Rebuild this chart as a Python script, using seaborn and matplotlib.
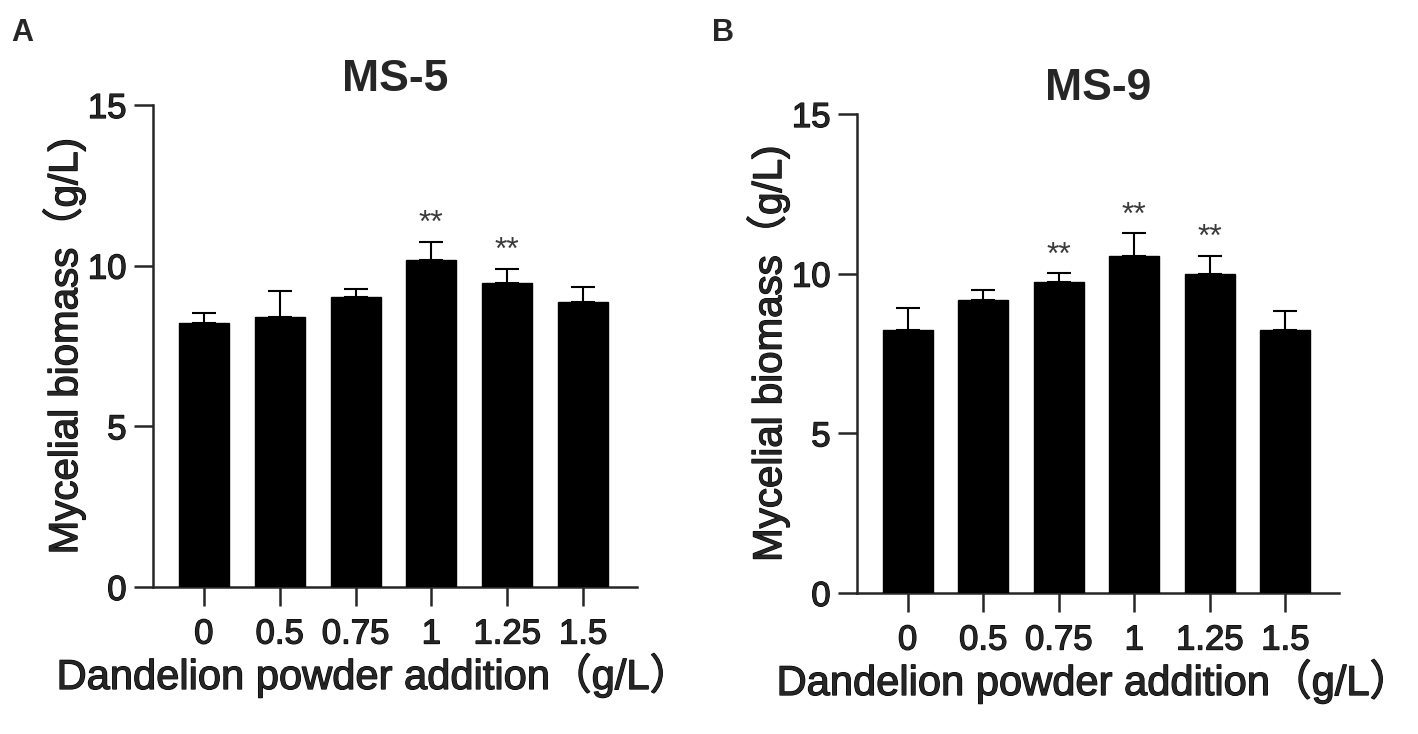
import pandas as pd
import seaborn as sns
import matplotlib.pyplot as plt
import matplotlib.patheffects as pe
import numpy as np

# Data
doses = ["0", "0.5", "0.75", "1", "1.25", "1.5"]
ms5_mean = [8.20, 8.40, 9.03, 10.16, 9.47, 8.88]
ms5_sd = [0.32, 0.81, 0.25, 0.58, 0.44, 0.45]
ms5_sig = ["", "", "", "**", "**", ""]
ms9_mean = [8.25, 9.17, 9.73, 10.54, 9.98, 8.25]
ms9_sd = [0.68, 0.31, 0.28, 0.72, 0.58, 0.58]
ms9_sig = ["", "", "**", "**", "**", ""]

sns.set_style("ticks")
plt.rcParams['font.family'] = ['Liberation Sans', 'Noto Sans CJK SC', 'DejaVu Sans']

# slightly heavier text, like the original export
thick = [pe.withStroke(linewidth=0.9, foreground="black")]

fig = plt.figure(figsize=(14.18, 7.34), dpi=100)
ax1 = fig.add_axes([0.1079, 0.2003, 0.3413, 0.6567])
ax2 = fig.add_axes([0.6044, 0.1921, 0.3399, 0.6526])

panels = [(ax1, "MS-5", ms5_mean, ms5_sd, ms5_sig, 0.455),
          (ax2, "MS-9", ms9_mean, ms9_sd, ms9_sig, 0.49)]

for ax, title, mean, sd, sig, xlab_pos in panels:
    df = pd.DataFrame({"dose": doses, "biomass": mean})
    sns.barplot(data=df, x="dose", y="biomass", color="black", width=0.66,
                edgecolor="black", errorbar=None, ax=ax, zorder=3, saturation=1)
    x = np.arange(len(doses))
    ax.errorbar(x, mean, yerr=[np.zeros(len(sd)), sd], fmt="none",
                ecolor="black", elinewidth=1.5, capsize=8.5, capthick=1.5, zorder=2)
    for xi, m, s, lab in zip(x, mean, sd, sig):
        if lab:
            ax.text(xi, m + s + 0.08, lab, ha="center", va="bottom",
                    fontsize=23, color="#3a3a3a")
    ax.set_ylim(0, 15)
    ax.set_xlim(-0.67, 5.71)
    ax.set_yticks([0, 5, 10, 15])
    sns.despine(ax=ax)
    for sp in ["left", "bottom"]:
        ax.spines[sp].set_linewidth(1.8)
    ax.tick_params(axis="both", length=14, width=1.8, labelsize=25, pad=5)
    ax.tick_params(axis="x", pad=8)
    for t in ax.get_xticklabels() + ax.get_yticklabels():
        t.set_path_effects(thick)
    ax.set_title(title, fontsize=32, fontweight="bold", pad=10)
    ax.set_xlabel("Dandelion powder addition（g/L）", fontsize=30, labelpad=2,
                  path_effects=thick)
    ax.xaxis.label.set_x(xlab_pos)
    ax.set_ylabel("Mycelial biomass（g/L)", fontsize=29, labelpad=2,
                  path_effects=thick)

fig.text(0.008, 0.975, "A", fontsize=22, fontweight="bold", va="top")
fig.text(0.502, 0.975, "B", fontsize=22, fontweight="bold", va="top")

fig.savefig("out.png", dpi=100)
